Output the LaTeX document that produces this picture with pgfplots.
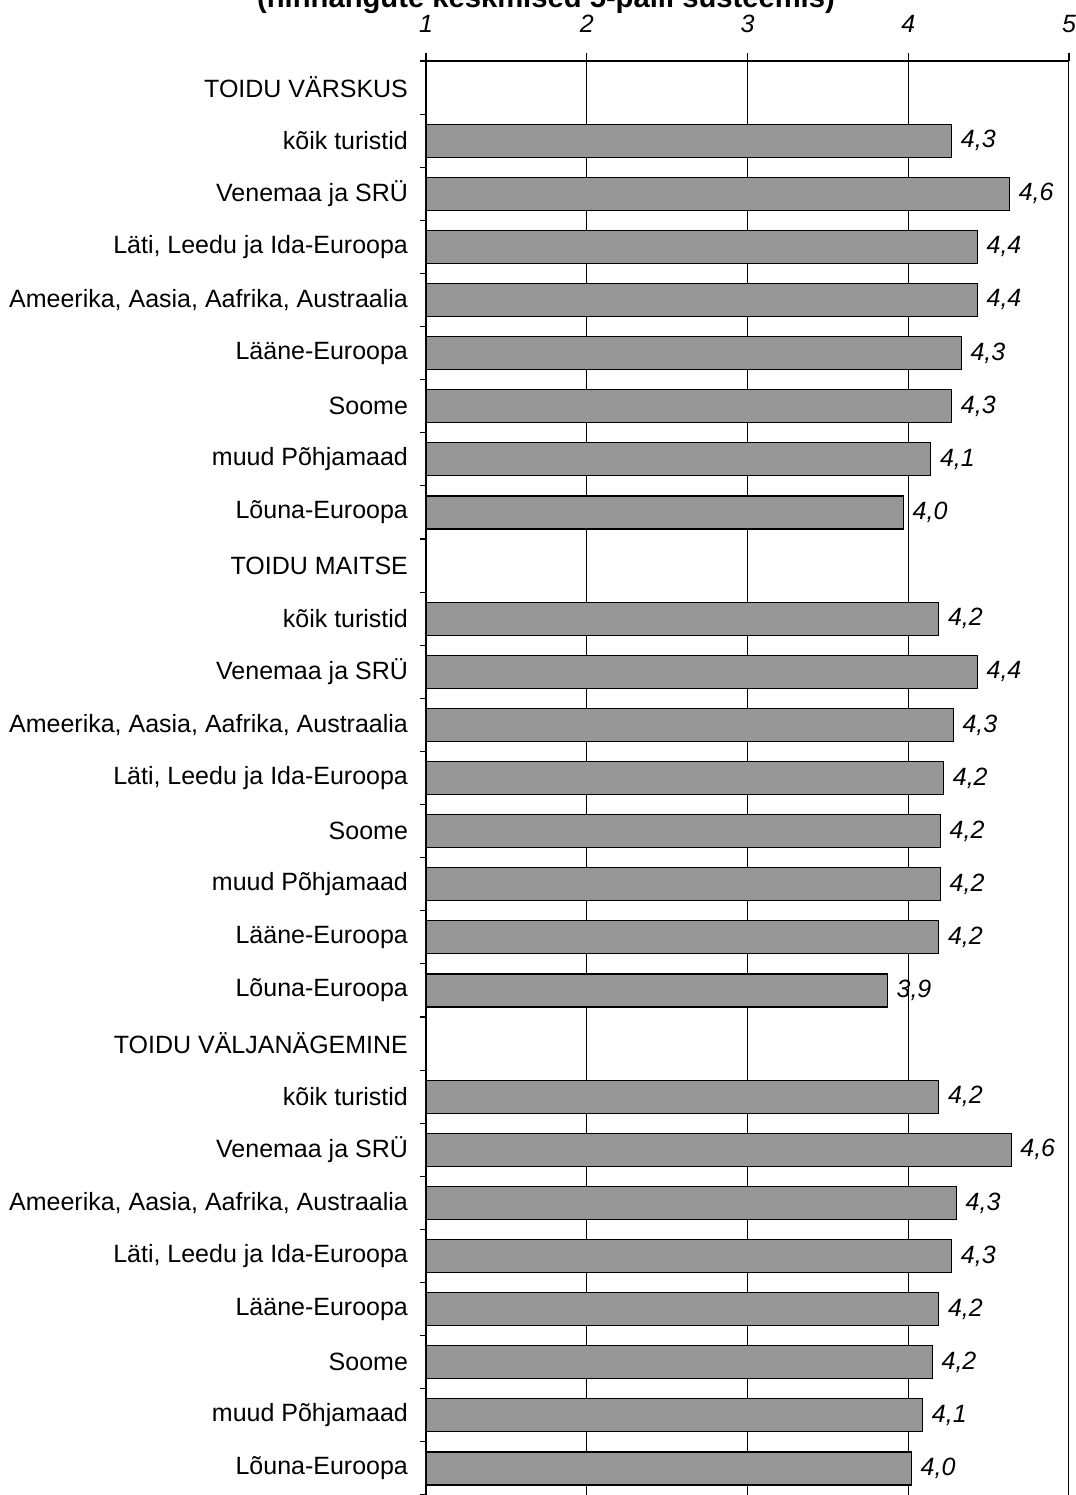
\documentclass[border=0pt]{standalone}
\usepackage{pgfplots}
\pgfplotsset{compat=1.18}
\usetikzlibrary{calc}
\usepackage{fontspec}
\setmainfont{Liberation Sans}
\definecolor{barfill}{RGB}{150,150,150}
\begin{document}
\begin{tikzpicture}
\begin{axis}[
  scale only axis, width=321.5pt, height=717pt,
  xbar, bar width=0.62,
  xmin=1, xmax=5, ymin=-0.5, ymax=26.5,
  axis x line*=top, axis y line*=left,
  axis line style={-, black, line width=0.75pt},
  xtick={1,2,3,4,5},
  xmajorgrids, grid style={black, line width=0.5pt},
  tick align=outside,
  major tick length=4pt, minor tick length=3pt,
  tick style={black, line width=0.6pt},
  major y tick style={draw=none},
  ytick={0,...,26},
  minor ytick={-0.5,0.5,...,26.5},
  yticklabels={Lõuna-Euroopa, muud Põhjamaad, Soome, Lääne-Euroopa, {Läti, Leedu ja Ida-Euroopa}, {Ameerika, Aasia, Aafrika, Austraalia}, Venemaa ja SRÜ, kõik turistid, TOIDU VÄLJANÄGEMINE,
    Lõuna-Euroopa, Lääne-Euroopa, muud Põhjamaad, Soome, {Läti, Leedu ja Ida-Euroopa}, {Ameerika, Aasia, Aafrika, Austraalia}, Venemaa ja SRÜ, kõik turistid, TOIDU MAITSE,
    Lõuna-Euroopa, muud Põhjamaad, Soome, Lääne-Euroopa, {Ameerika, Aasia, Aafrika, Austraalia}, {Läti, Leedu ja Ida-Euroopa}, Venemaa ja SRÜ, kõik turistid, TOIDU VÄRSKUS},
  yticklabel style={font=\fontsize{12.5}{15}\selectfont, anchor=east, xshift=-1.5pt},
  xticklabel style={font=\fontsize{12.5}{14}\selectfont\itshape, yshift=6.5pt},
  /pgf/number format/assume math mode=true,
  nodes near coords={\pgfmathprintnumber[fixed,fixed zerofill,precision=1,use comma,assume math mode=true]{\pgfplotspointmeta}},
  every node near coord/.append style={font=\fontsize{12.5}{14}\selectfont\itshape, black, xshift=1pt},
]
\addplot[fill=barfill, draw=black, line width=0.6pt] coordinates {
 (4.27,25) (4.63,24) (4.43,23) (4.43,22) (4.33,21) (4.27,20) (4.14,19) (3.97,18)
 (4.19,16) (4.43,15) (4.28,14) (4.22,13) (4.20,12) (4.20,11) (4.19,10) (3.87,9)
 (4.19,7) (4.64,6) (4.30,5) (4.27,4) (4.19,3) (4.15,2) (4.09,1) (4.02,0)
};
\coordinate (bl) at (rel axis cs:0,0);
\coordinate (tr) at (rel axis cs:1,1);
\coordinate (tl) at (rel axis cs:0,1);
\end{axis}
\node[font=\fontsize{14.6}{17}\selectfont\bfseries, anchor=base] at ($(tl)+(60pt,26.5pt)$) {(hinnangute keskmised 5-palli süsteemis)};
\pgfresetboundingbox
\useasboundingbox ($(bl)+(-213pt,0)$) rectangle ($(tr)+(3.5pt,30.5pt)$);
\end{tikzpicture}
\end{document}
